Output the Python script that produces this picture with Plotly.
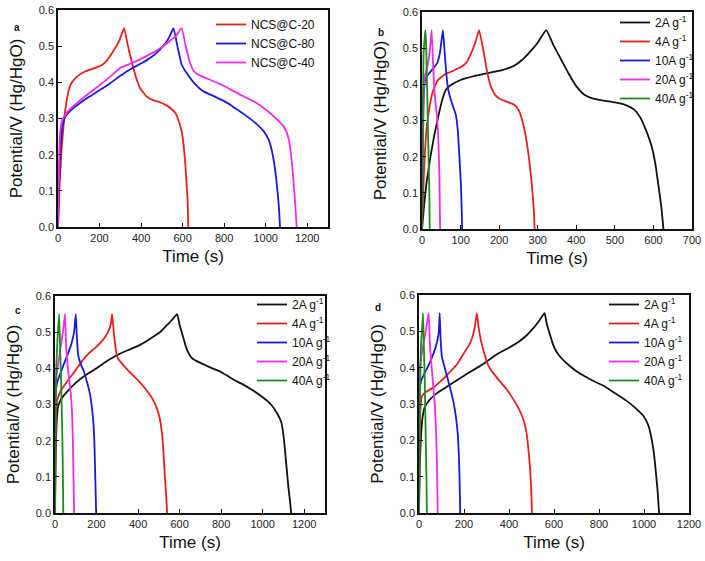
import plotly.graph_objects as go

# ── Données (temps en s, potentiel en V) ────────────────────────────────────

# (a) NCS@C-x à courant constant
A_T_C20 = [0, 8, 18, 30, 42, 55, 65, 90, 130, 180, 210, 235, 265, 295, 318,
           335, 355, 375, 396, 428, 460, 492, 520, 545, 565, 580, 597, 606, 613, 620, 624, 627]
A_V_C20 = [0, 0.12, 0.22, 0.30, 0.35, 0.385, 0.398, 0.415, 0.43, 0.44, 0.447, 0.46, 0.485, 0.515, 0.55,
           0.505, 0.457, 0.415, 0.383, 0.36, 0.35, 0.345, 0.337, 0.327, 0.315, 0.295, 0.26, 0.22, 0.175, 0.11, 0.074, 0]
A_T_C80 = [0, 5, 12, 22, 35, 60, 100, 150, 200, 250, 300, 350, 400, 450, 490, 520, 540, 556,
           575, 595, 620, 660, 700, 750, 800, 850, 900, 950, 990, 1015, 1030, 1045, 1055, 1063, 1069]
A_V_C80 = [0, 0.12, 0.22, 0.28, 0.305, 0.322, 0.34, 0.36, 0.378, 0.397, 0.418, 0.437, 0.452, 0.47, 0.49, 0.51, 0.53, 0.55,
           0.5, 0.45, 0.425, 0.395, 0.375, 0.362, 0.348, 0.33, 0.31, 0.288, 0.265, 0.24, 0.21, 0.16, 0.11, 0.06, 0]
A_T_C40 = [0, 4, 10, 20, 35, 60, 100, 150, 200, 250, 300, 350, 400, 450, 500, 540, 570, 595,
           615, 635, 655, 680, 720, 800, 880, 950, 1000, 1050, 1090, 1110, 1122, 1132, 1140, 1146, 1149]
A_V_C40 = [0, 0.15, 0.26, 0.295, 0.31, 0.327, 0.347, 0.37, 0.392, 0.415, 0.44, 0.452, 0.465, 0.48, 0.497, 0.515, 0.53, 0.55,
           0.5, 0.455, 0.43, 0.42, 0.41, 0.39, 0.365, 0.345, 0.325, 0.3, 0.275, 0.245, 0.2, 0.14, 0.08, 0.03, 0]

# (b) NCS@C-20 à différentes densités de courant
B_T_2 = [0, 5, 12, 22, 32, 42, 52, 62, 75, 100, 140, 180, 210, 240, 260, 280, 300, 322,
         340, 360, 380, 400, 420, 440, 470, 500, 530, 550, 565, 580, 595, 605, 613, 620, 626]
B_V_2 = [0, 0.06, 0.13, 0.2, 0.26, 0.31, 0.355, 0.385, 0.398, 0.412, 0.424, 0.433, 0.44, 0.452, 0.468, 0.49, 0.515, 0.55,
         0.51, 0.47, 0.43, 0.395, 0.372, 0.362, 0.355, 0.35, 0.342, 0.33, 0.31, 0.275, 0.23, 0.18, 0.12, 0.065, 0]
B_T_4 = [0, 3, 7, 12, 20, 28, 40, 60, 80, 100, 115, 125, 138, 148,
         158, 168, 178, 190, 205, 225, 240, 250, 260, 270, 278, 285, 290, 292]
B_V_4 = [0, 0.1, 0.2, 0.28, 0.34, 0.38, 0.41, 0.428, 0.437, 0.447, 0.46, 0.48, 0.515, 0.55,
         0.5, 0.44, 0.395, 0.37, 0.358, 0.35, 0.343, 0.33, 0.3, 0.25, 0.19, 0.12, 0.05, 0]
B_T_10 = [0, 2, 5, 9, 18, 30, 40, 47, 54, 58, 63, 68, 74, 80, 88, 93, 97, 101, 103, 104]
B_V_10 = [0, 0.2, 0.38, 0.415, 0.43, 0.445, 0.46, 0.49, 0.55, 0.5, 0.43, 0.385, 0.36, 0.34, 0.315, 0.27, 0.2, 0.12, 0.05, 0]
B_T_20 = [0, 1, 3, 7, 14, 20, 25, 29, 33, 38, 42, 45, 47]
B_V_20 = [0, 0.15, 0.35, 0.42, 0.45, 0.49, 0.55, 0.45, 0.37, 0.32, 0.26, 0.15, 0]
B_T_40 = [0, 2, 4, 7, 9, 11, 13, 15, 17, 19, 20]
B_V_40 = [0, 0.3, 0.48, 0.53, 0.55, 0.5, 0.4, 0.3, 0.2, 0.1, 0]

# (c)
C_T_2 = [0, 3, 8, 15, 30, 50, 100, 150, 200, 250, 300, 350, 400, 440, 480, 510, 540, 565, 588,
         600, 615, 630, 645, 660, 700, 750, 800, 850, 900, 950, 1000, 1040, 1070, 1090, 1100, 1108, 1116, 1124, 1132, 1137]
C_V_2 = [0, 0.15, 0.25, 0.295, 0.315, 0.33, 0.36, 0.382, 0.4, 0.42, 0.437, 0.45, 0.462, 0.475, 0.49, 0.502, 0.52, 0.535, 0.55,
         0.52, 0.49, 0.46, 0.44, 0.428, 0.415, 0.402, 0.39, 0.372, 0.357, 0.34, 0.32, 0.3, 0.275, 0.25, 0.215, 0.17, 0.12, 0.07, 0.03, 0]
C_T_4 = [0, 2, 5, 10, 30, 60, 100, 130, 160, 200, 230, 255, 268, 275,
         283, 292, 302, 320, 350, 400, 440, 470, 490, 505, 515, 522, 528, 535, 540]
C_V_4 = [0, 0.15, 0.27, 0.31, 0.34, 0.365, 0.395, 0.42, 0.44, 0.46, 0.478, 0.5, 0.52, 0.55,
         0.5, 0.455, 0.428, 0.415, 0.395, 0.367, 0.34, 0.315, 0.29, 0.26, 0.22, 0.17, 0.11, 0.05, 0]
C_T_10 = [0, 1, 3, 10, 25, 45, 65, 80, 92, 100, 105, 112, 125, 140, 155, 168, 178, 185, 190, 193, 196, 198]
C_V_10 = [0, 0.2, 0.33, 0.36, 0.385, 0.415, 0.445, 0.47, 0.5, 0.55, 0.49, 0.435, 0.41, 0.39, 0.36, 0.33, 0.29, 0.25, 0.19, 0.12, 0.05, 0]
C_T_20 = [0, 1, 4, 12, 25, 38, 48, 53, 60, 68, 76, 82, 86, 89, 92]
C_V_20 = [0, 0.25, 0.36, 0.4, 0.45, 0.5, 0.55, 0.47, 0.41, 0.37, 0.33, 0.28, 0.2, 0.1, 0]
C_T_40 = [0, 2, 6, 12, 20, 25, 30, 34, 37, 40]
C_V_40 = [0, 0.2, 0.4, 0.48, 0.55, 0.45, 0.35, 0.25, 0.15, 0]

# (d)
D_T_2 = [0, 3, 8, 15, 25, 45, 80, 130, 200, 280, 350, 400, 440, 480, 510, 535, 558,
         568, 580, 595, 610, 630, 660, 700, 740, 780, 820, 870, 920, 960, 1000, 1020, 1035, 1045, 1053, 1060, 1067]
D_V_2 = [0, 0.12, 0.2, 0.26, 0.29, 0.31, 0.33, 0.35, 0.378, 0.408, 0.438, 0.455, 0.47, 0.49, 0.51, 0.53, 0.55,
         0.52, 0.495, 0.465, 0.445, 0.428, 0.41, 0.39, 0.375, 0.362, 0.35, 0.33, 0.31, 0.29, 0.265, 0.24, 0.2, 0.16, 0.11, 0.065, 0]
D_T_4 = [0, 2, 5, 12, 30, 63, 100, 140, 170, 200, 225, 240, 250, 257,
         265, 275, 290, 305, 330, 360, 390, 420, 445, 465, 478, 487, 494, 499, 502]
D_V_4 = [0, 0.15, 0.27, 0.32, 0.333, 0.345, 0.365, 0.39, 0.41, 0.44, 0.465, 0.49, 0.52, 0.55,
         0.51, 0.475, 0.44, 0.41, 0.385, 0.362, 0.34, 0.312, 0.285, 0.255, 0.22, 0.17, 0.12, 0.06, 0]
D_T_10 = [0, 1, 3, 10, 25, 45, 65, 80, 88, 92, 96, 102, 112, 125, 140, 155, 165, 172, 177, 180, 182, 183]
D_V_10 = [0, 0.2, 0.34, 0.365, 0.385, 0.41, 0.44, 0.47, 0.5, 0.55, 0.48, 0.43, 0.405, 0.375, 0.34, 0.3, 0.26, 0.22, 0.16, 0.1, 0.04, 0]
D_T_20 = [0, 1, 4, 15, 30, 43, 48, 55, 62, 70, 76, 80, 82, 83]
D_V_20 = [0, 0.2, 0.4, 0.45, 0.5, 0.55, 0.47, 0.41, 0.36, 0.3, 0.22, 0.13, 0.05, 0]
D_T_40 = [0, 3, 8, 13, 18, 22, 26, 30, 33, 35]
D_V_40 = [0, 0.25, 0.45, 0.5, 0.55, 0.45, 0.35, 0.2, 0.1, 0]

NOMS_A = ["NCS@C-20", "NCS@C-80", "NCS@C-40"]
NOMS_DENSITE = ["2A g<sup>-1</sup>", "4A g<sup>-1</sup>", "10A g<sup>-1</sup>",
                "20A g<sup>-1</sup>", "40A g<sup>-1</sup>"]

# ── Palette & style ──────────────────────────────────────────────────────────

ROUGE, BLEU, MAGENTA, VERT, NOIR = "#e8201c", "#1a1ad8", "#f02ce8", "#1f8a1f", "#111111"
COULEURS_A = [ROUGE, BLEU, MAGENTA]
COULEURS_DENSITE = [NOIR, ROUGE, BLEU, MAGENTA, VERT]
FONT = "Liberation Sans, Arial, sans-serif"

W, H = 705, 561
# cadres des 4 graphiques en pixels : (gauche, droite, haut, bas)
CADRES = {
    "a": (58, 328, 10, 227),
    "b": (422, 692, 12, 229),
    "c": (55, 325, 296, 513),
    "d": (419, 689, 295, 513),
}
X_MAX = {"a": 1300, "b": 700, "c": 1300, "d": 1200}
X_DTICK = {"a": 200, "b": 100, "c": 200, "d": 200}
LEGENDES = {"a": (211, 10), "b": (615, 8), "c": (252, 290), "d": (604, 290)}
LETTRES = {"a": (12, 20), "b": (381, 25), "c": (13, 310), "d": (378, 307)}

SERIES = {
    "a": list(zip([A_T_C20, A_T_C80, A_T_C40], [A_V_C20, A_V_C80, A_V_C40], NOMS_A, COULEURS_A)),
    "b": list(zip([B_T_2, B_T_4, B_T_10, B_T_20, B_T_40], [B_V_2, B_V_4, B_V_10, B_V_20, B_V_40],
                  NOMS_DENSITE, COULEURS_DENSITE)),
    "c": list(zip([C_T_2, C_T_4, C_T_10, C_T_20, C_T_40], [C_V_2, C_V_4, C_V_10, C_V_20, C_V_40],
                  NOMS_DENSITE, COULEURS_DENSITE)),
    "d": list(zip([D_T_2, D_T_4, D_T_10, D_T_20, D_T_40], [D_V_2, D_V_4, D_V_10, D_V_20, D_V_40],
                  NOMS_DENSITE, COULEURS_DENSITE)),
}

fig = go.Figure()
layout = dict(
    width=W, height=H,
    margin=dict(l=0, r=0, t=0, b=0, autoexpand=False),
    paper_bgcolor="white", plot_bgcolor="white",
    font=dict(family=FONT, color="#111"),
    showlegend=True,
)
annotations = []

for i, panel in enumerate("abcd"):
    n = "" if i == 0 else str(i + 1)
    l, r, t, b = CADRES[panel]
    ax_style = dict(
        showline=True, linecolor="#111", linewidth=1.5, mirror=True,
        ticks="inside", ticklen=4, tickwidth=1.2, tickcolor="#111",
        showgrid=False, zeroline=False, automargin=False,
        ticklabeloverflow="allow",
        tickfont=dict(size=11, color="#222"),
        title_font=dict(size=17, color="#111"),
    )
    layout["xaxis" + n] = dict(
        ax_style, domain=[l / W, r / W], anchor="y" + n,
        range=[0, X_MAX[panel]], dtick=X_DTICK[panel], tick0=0,
        title=dict(text="Time (s)", standoff=7),
    )
    layout["yaxis" + n] = dict(
        ax_style, domain=[1 - b / H, 1 - t / H], anchor="x" + n,
        range=[0, 0.6], dtick=0.1, tickformat=".1f",
        title=dict(text="Potential/V (Hg/HgO)", standoff=12),
    )
    lx, ly = LEGENDES[panel]
    layout["legend" + n] = dict(
        x=lx / W, y=1 - ly / H, xanchor="left", yanchor="top",
        bgcolor="rgba(0,0,0,0)", font=dict(size=12, color="#111"),
        itemwidth=30, tracegroupgap=0,
    )
    for tt, vv, nom, coul in SERIES[panel]:
        fig.add_trace(go.Scatter(
            x=tt, y=vv, mode="lines", name=nom,
            line=dict(color=coul, width=1.8, shape="spline", smoothing=0.4),
            xaxis="x" + n, yaxis="y" + n, legend="legend" + n,
        ))
    # lettre du panneau
    px_, py_ = LETTRES[panel]
    annotations.append(dict(
        text=f"<b>{panel}</b>", xref="paper", yref="paper",
        x=px_ / W, y=1 - py_ / H,
        showarrow=False, font=dict(size=10, color="#111"),
    ))

layout["annotations"] = annotations
fig.update_layout(**layout)
# la page par défaut a une marge de 8 px sur le <body> : on la retire
fig.write_html(
    "out.html",
    config={"displayModeBar": False},
    post_script="document.body.style.margin='0';",
)
